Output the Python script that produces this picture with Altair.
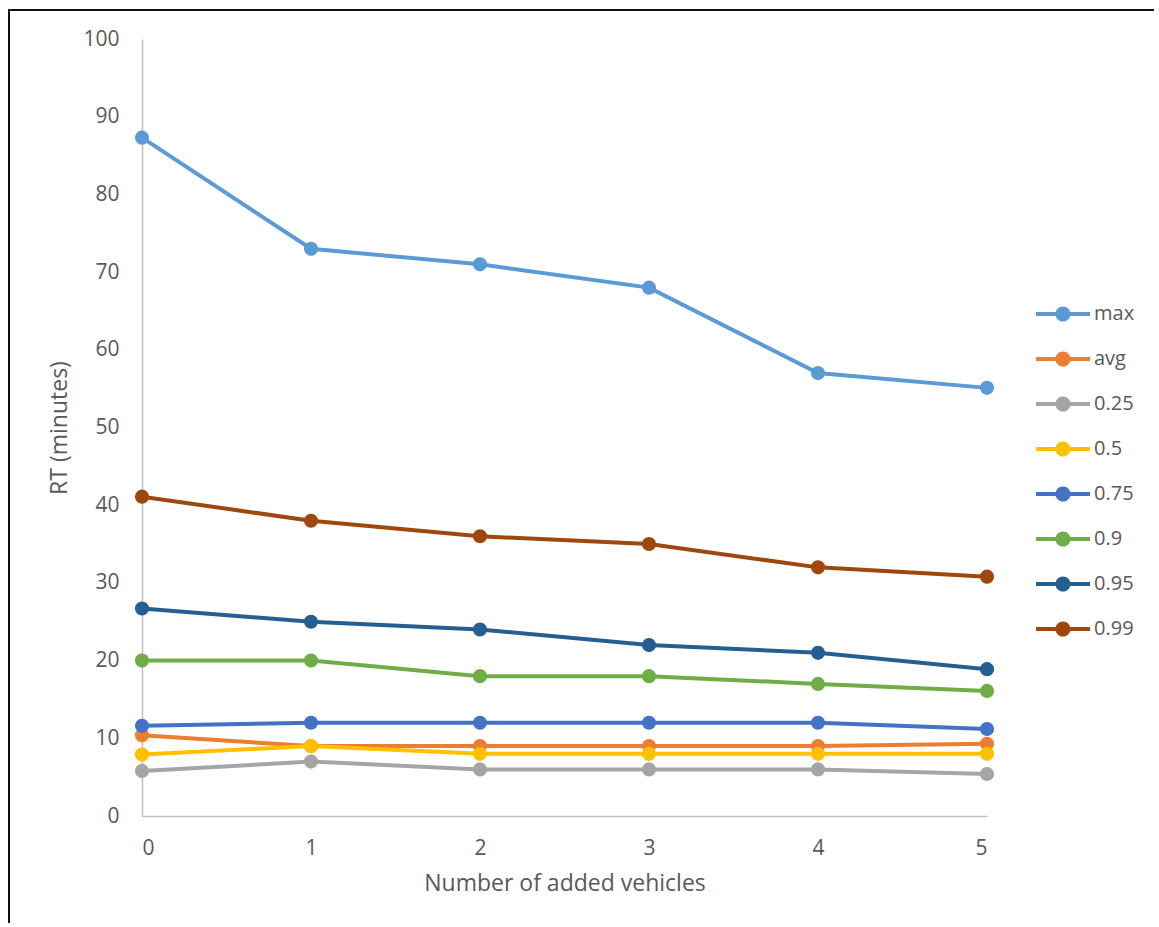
import altair as alt
import pandas as pd

# Response time (minutes) by number of added vehicles
vehicles = [0, 1, 2, 3, 4, 5]
series_names = ["max", "avg", "0.25", "0.5", "0.75", "0.9", "0.95", "0.99"]
series_colors = ["#5B9BD5", "#ED7D31", "#A5A5A5", "#FFC000",
                 "#4472C4", "#70AD47", "#255E91", "#9E480E"]

rt_max = [87.3, 73.0, 71.0, 68.0, 57.0, 55.1]
rt_avg = [10.4, 9.0, 9.0, 9.0, 9.0, 9.3]
rt_p25 = [5.8, 7.0, 6.0, 6.0, 6.0, 5.4]
rt_p50 = [7.9, 9.0, 8.0, 8.0, 8.0, 8.0]
rt_p75 = [11.6, 12.0, 12.0, 12.0, 12.0, 11.2]
rt_p90 = [20.0, 20.0, 18.0, 18.0, 17.0, 16.1]
rt_p95 = [26.7, 25.0, 24.0, 22.0, 21.0, 18.9]
rt_p99 = [41.1, 38.0, 36.0, 35.0, 32.0, 30.8]

y_ticks = list(range(0, 101, 10))

series_values = [rt_max, rt_avg, rt_p25, rt_p50, rt_p75, rt_p90, rt_p95, rt_p99]
rows = []
for order, (name, values) in enumerate(zip(series_names, series_values)):
    for x, v in zip(vehicles, values):
        rows.append({"vehicles": x, "rt": v, "series": name, "order": order})
df = pd.DataFrame(rows)

FONT = "Open Sans"
TEXT = "#595959"
AXIS_LINE = "#BFBFBF"

# legend glyph: a short line with a dot in the middle
legend_glyph = ("M-3.375,-0.25L3.375,-0.25L3.375,0.25L-3.375,0.25Z "
                "M0.95,0A0.95,0.95 0 1,1 -0.95,0A0.95,0.95 0 1,1 0.95,0Z")

color_scale = alt.Scale(domain=series_names, range=series_colors)

legend = alt.Legend(
    title=None,
    orient="none",
    legendX=911,
    legendY=265,
    padding=0,
    symbolType=legend_glyph,
    symbolSize=256,
    symbolStrokeWidth=0,
    symbolOpacity=1,
    labelOffset=21,
    labelFont=FONT,
    labelFontSize=20,
    labelColor=TEXT,
    rowPadding=25,
)

x_enc = alt.X(
    "vehicles:Q",
    scale=alt.Scale(domain=[0, 5], nice=False, zero=False),
    axis=alt.Axis(
        title="Number of added vehicles",
        values=vehicles,
        grid=False,
        ticks=False,
        tickSize=0,
        domainColor=AXIS_LINE,
        domainWidth=1.5,
        labelFont=FONT,
        labelFontSize=21,
        labelColor=TEXT,
        labelPadding=21,
        titleFont=FONT,
        titleFontSize=23,
        titleFontWeight="normal",
        titleColor=TEXT,
        titlePadding=14,
    ),
)

y_enc = alt.Y(
    "rt:Q",
    scale=alt.Scale(domain=[0, 100], nice=False),
    axis=alt.Axis(
        title="RT (minutes)",
        values=y_ticks,
        grid=False,
        ticks=False,
        tickSize=0,
        domainColor=AXIS_LINE,
        domainWidth=1.5,
        labelFont=FONT,
        labelFontSize=21,
        labelColor=TEXT,
        labelPadding=23,
        titleFont=FONT,
        titleFontSize=23,
        titleFontWeight="normal",
        titleColor=TEXT,
        titlePadding=11,
    ),
)

color = alt.Color("series:N", scale=color_scale, sort=series_names, legend=legend)

lines = alt.Chart(df).mark_line(strokeWidth=4).encode(
    x=x_enc, y=y_enc, color=color, order="order:Q",
)
dots = alt.Chart(df).mark_circle(size=200, opacity=1).encode(
    x=x_enc, y=y_enc, color=color, order="order:Q",
)

# outer frame (left and top edges)
frame_left = alt.Chart(df).mark_rule(color="#111111", strokeWidth=2).encode(
    x=alt.value(-133), y=alt.value(-30), y2=alt.value(884)
)
frame_top = alt.Chart(df).mark_rule(color="#111111", strokeWidth=2).encode(
    x=alt.value(-134), x2=alt.value(1012), y=alt.value(-29)
)

chart = alt.layer(lines, dots, frame_left, frame_top).properties(
    width=845,
    height=777,
    padding={"left": 7, "top": 8, "right": 0, "bottom": 0},
    background="white",
).configure_view(stroke=None)

chart.save("out.html", embed_options={"renderer": "svg", "actions": False})
